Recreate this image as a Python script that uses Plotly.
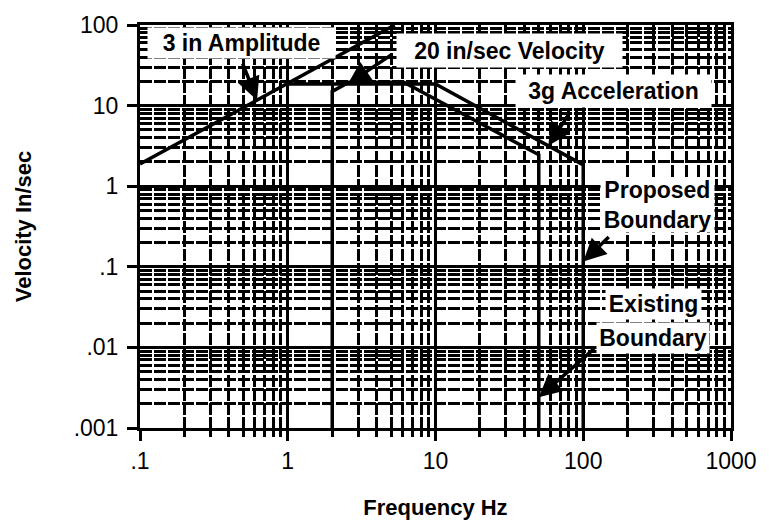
import math
import plotly.graph_objects as go

# Vibration boundary data (frequency in Hz, velocity in in/sec)
amp_freq = [0.1, 5.3]            # 3 in amplitude line
amp_vel = [1.885, 100]
proposed_freq = [0.98, 10, 100, 100]
proposed_vel = [18.5, 18.5, 1.84, 0.001]
existing_freq = [2, 2, 2.6, 6.1, 50, 50]
existing_vel = [0.001, 15, 19.5, 19.5, 2.45, 0.001]

x_ticks = [0.1, 1, 10, 100, 1000]
x_tick_text = [".1", "1", "10", "100", "1000"]
y_ticks = [0.001, 0.01, 0.1, 1, 10, 100]
y_tick_text = [".001", ".01", ".1", "1", "10", "100"]

FONT = "Liberation Sans"
INK = "black"

def minor_vals(lo_exp, hi_exp):
    return [m * 10 ** e for e in range(lo_exp, hi_exp) for m in range(2, 10)]

fig = go.Figure()
line_style = dict(color=INK, width=3.5)
for fx, vy in [(amp_freq, amp_vel), (proposed_freq, proposed_vel), (existing_freq, existing_vel)]:
    fig.add_trace(go.Scatter(x=fx, y=vy, mode="lines", line=line_style,
                             showlegend=False, hoverinfo="skip"))

axis_common = dict(
    type="log", showline=True, linecolor=INK, linewidth=3, mirror=True,
    showgrid=True, gridcolor=INK, gridwidth=3,
    ticks="outside", ticklen=10, tickwidth=3, tickcolor=INK,
    tickfont=dict(family=FONT, size=23, color=INK),
    zeroline=False, tickmode="array",
)
minor_common = dict(showgrid=True, gridcolor=INK, gridwidth=3.2, griddash="12px,2px",
                    ticklen=6, tickwidth=3, tickcolor=INK)

fig.update_xaxes(
    **axis_common, range=[-1, 3], tickvals=x_ticks, ticktext=x_tick_text,
    minor=dict(tickvals=minor_vals(-1, 3), ticks="outside", **minor_common),
    title=dict(text="<b>Frequency Hz</b>", font=dict(family=FONT, size=22, color=INK), standoff=28),
)
fig.update_yaxes(
    **axis_common, range=[-3, 2], tickvals=y_ticks, ticktext=y_tick_text,
    ticklabelstandoff=4,
    minor=dict(tickvals=minor_vals(-3, 2), ticks="inside", **minor_common),
    title=dict(text="<b>Velocity In/sec</b>", font=dict(family=FONT, size=22, color=INK), standoff=36),
)

label_font = dict(family=FONT, size=23, color=INK)

def label(text, cx, cy, w, h):
    # cx, cy in pixels of the page; converted to paper fractions of the plot area
    fig.add_annotation(text="<b>%s</b>" % text,
                       x=(cx - 140) / 595, y=(413 - (cy - 16)) / 412,
                       xref="paper", yref="paper", xanchor="center", yanchor="middle",
                       width=w, height=h, showarrow=False, bgcolor="white",
                       font=label_font, borderpad=0)

label("3 in Amplitude", 242, 35, 187, 30)
label("20 in/sec Velocity", 512, 43, 225, 33)
label("3g Acceleration", 617, 84, 195, 32)
label("Proposed<br>Boundary", 661, 201, 113, 54)
label("Existing", 657, 302, 95, 30)
label("Boundary", 656, 337, 112, 30)

def arrow(f, v, ax, ay):
    fig.add_annotation(text="", x=math.log10(f), y=math.log10(v), xref="x", yref="y",
                       showarrow=True, ax=ax, ay=ay, arrowhead=2, arrowsize=1.3,
                       arrowwidth=3.5, arrowcolor=INK)

arrow(0.62, 11.7, -15, -38)
arrow(2.55, 18.5, 46, -31)
arrow(58, 3.17, 22, -34)
arrow(100, 0.116, 27, -26)
arrow(50, 0.0024, 57, -50)

fig.update_layout(
    width=769, height=529,
    margin=dict(l=140, r=33, t=16, b=101),
    paper_bgcolor="white", plot_bgcolor="white",
    font=dict(family=FONT, color=INK),
)

fig.write_html("out.html")
